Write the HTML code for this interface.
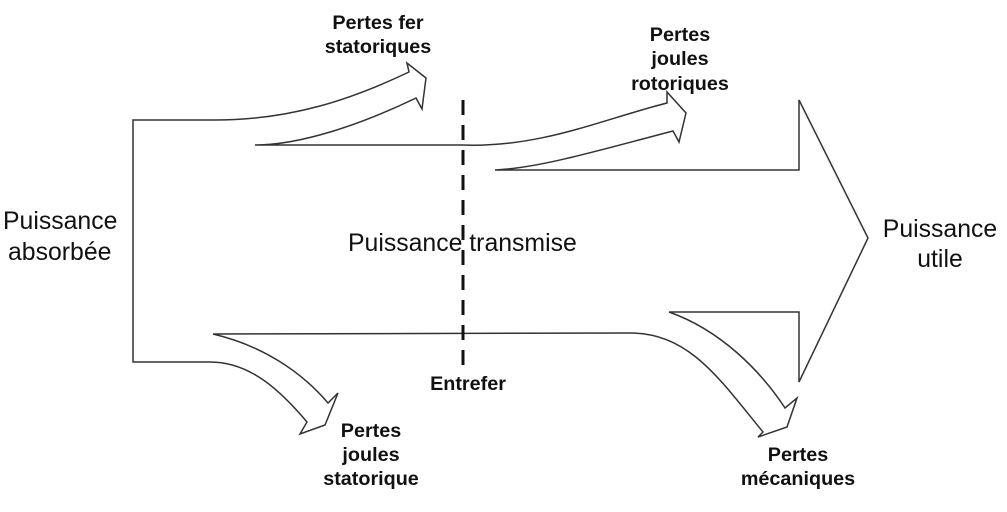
<!DOCTYPE html>
<html><head><meta charset="utf-8"><style>
html,body{margin:0;padding:0;background:#fff;}
svg{display:block;}
text{font-family:"Liberation Sans",Arial,sans-serif;fill:#111;}
.b{font-weight:bold;font-size:19.8px;}
.n{font-size:24.8px;}
</style></head><body>
<svg width="1007" height="512" viewBox="0 0 1007 512">
<g fill="none" stroke="#333" stroke-width="1.5" stroke-linejoin="miter">
<path d="M215,120 L133,120 L133,362 L210,362"/>
<path d="M215,120 C290,120 350,100 409,72 L407,63 L426,78 L422,109 L416,98 C360,125 300,145 255,145 L462,145 C540,148 600,120 667,103 L667,92 L686,113 L679,142 L673,131 C600,150 540,168 495,170 L799,170 L799,100 L868,238 L799,382 L799,312 L669,312 C720,330 760,370 785,408 L797,398 L787,427 L758,437 L763,432 C720,380 690,333 630,333 L213,334 C260,345 300,370 328,403 L338,393 L325,425 L300,434 L307,422 C280,390 250,362 210,362"/>
</g>
<line x1="463" y1="100" x2="463" y2="366" stroke="#111" stroke-width="3" stroke-dasharray="15,10"/>
<text class="b" x="378" y="29" text-anchor="middle">Pertes fer</text>
<text class="b" x="378" y="53" text-anchor="middle">statoriques</text>
<text class="b" x="680" y="41" text-anchor="middle">Pertes</text>
<text class="b" x="680" y="65" text-anchor="middle">joules</text>
<text class="b" x="680" y="90" text-anchor="middle">rotoriques</text>
<text class="n" x="3" y="229">Puissance</text>
<text class="n" x="8" y="260">absorbée</text>
<text class="n" x="348" y="251">Puissance transmise</text>
<text class="n" x="940" y="237" text-anchor="middle">Puissance</text>
<text class="n" x="940" y="267" text-anchor="middle">utile</text>
<text class="b" x="468" y="390" text-anchor="middle">Entrefer</text>
<text class="b" x="371" y="437" text-anchor="middle">Pertes</text>
<text class="b" x="371" y="461" text-anchor="middle">joules</text>
<text class="b" x="371" y="485" text-anchor="middle">statorique</text>
<text class="b" x="798" y="461" text-anchor="middle">Pertes</text>
<text class="b" x="798" y="485" text-anchor="middle">mécaniques</text>
</svg>
</body></html>
